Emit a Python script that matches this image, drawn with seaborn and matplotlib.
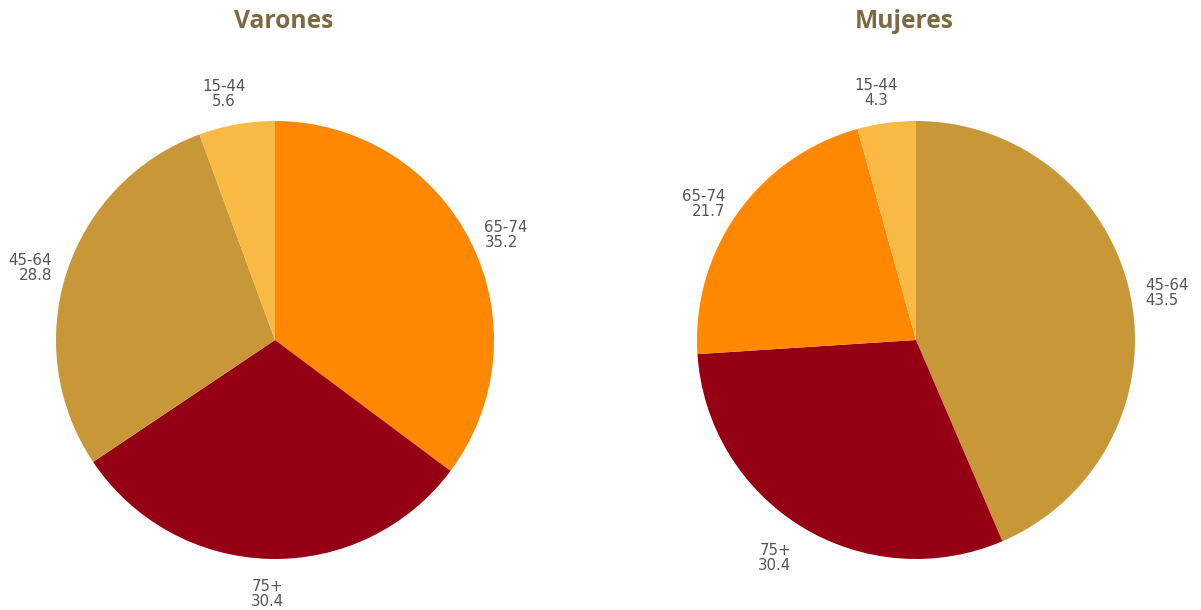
import numpy as np
import matplotlib
matplotlib.use("Agg")
import matplotlib.pyplot as plt
import seaborn as sns

sns.set_theme(style="white")
plt.rcParams["font.family"] = ["DejaVu Sans"]

# Age groups and shares (%) per sex, listed clockwise from 12 o'clock
varones_groups = ["65-74", "75+", "45-64", "15-44"]
varones_values = [35.2, 30.4, 28.8, 5.6]
mujeres_groups = ["45-64", "75+", "65-74", "15-44"]
mujeres_values = [43.5, 30.4, 21.7, 4.3]

group_colors = {
    "15-44": "#F9BA45",
    "45-64": "#C89838",
    "65-74": "#FF8800",
    "75+": "#960014",
}
title_color = "#7D6A42"
label_color = "#555555"

W, H = 1201, 610
fig = plt.figure(figsize=(W / 100, H / 100), dpi=100)
fig.patch.set_facecolor("white")


def draw_pie(cx, cy, r, groups, values, title, title_x):
    ax = fig.add_axes([(cx - r) / W, (H - cy - r) / H, 2 * r / W, 2 * r / H])
    ax.pie(values, colors=[group_colors[g] for g in groups], startangle=90,
           counterclock=False, radius=1.0,
           wedgeprops=dict(linewidth=0, edgecolor="none", antialiased=True))
    ax.set_xlim(-1, 1)
    ax.set_ylim(-1, 1)
    ax.set_aspect("equal")
    ax.axis("off")

    # value labels just outside each wedge, aligned away from the pie
    total = float(sum(values))
    start = 90.0
    for g, v in zip(groups, values):
        sweep = 360.0 * v / total
        mid = np.deg2rad(start - sweep / 2)
        start -= sweep
        c, s = np.cos(mid), np.sin(mid)
        ha = "left" if c > 0.3 else ("right" if c < -0.3 else "center")
        va = "bottom" if s > 0.75 else ("top" if s < -0.75 else "center")
        d = 1.09 if s < -0.75 else 1.07
        x = d * c * (1.25 if ha == "center" else 1.0)
        y = d * s
        ax.text(x, y, f"{g}\n{v:.1f}", ha=ha, va=va, multialignment=ha,
                fontsize=10.8, color=label_color, linespacing=1.0, clip_on=False)

    fig.text(title_x / W, 1 - 21 / H, title, ha="center", va="center",
             fontsize=17.7, fontweight="bold", color=title_color,
             family=["Open Sans", "DejaVu Sans"])


draw_pie(275, 340, 219, varones_groups, varones_values, "Varones", 284)
draw_pie(916, 340, 219, mujeres_groups, mujeres_values, "Mujeres", 904)

fig.savefig("out.png", dpi=100, facecolor="white")
